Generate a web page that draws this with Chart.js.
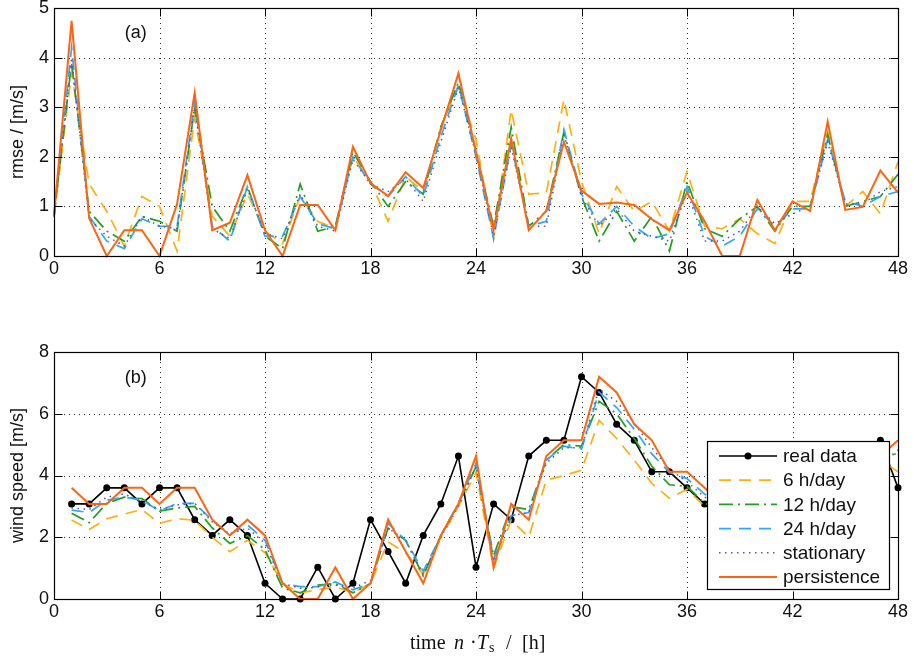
<!DOCTYPE html>
<html><head><meta charset="utf-8">
<script src="https://cdn.jsdelivr.net/npm/chart.js@4.4.1/dist/chart.umd.min.js"></script>
<style>
html,body{margin:0;padding:0;background:#fff;}
#wrap{position:relative;width:914px;height:659px;overflow:hidden;}
#c1{position:absolute;left:0;top:0;}
#c2{position:absolute;left:0;top:330px;}
</style></head><body>
<div id="wrap"><canvas id="c1" width="914" height="300"></canvas><canvas id="c2" width="914" height="329"></canvas></div>
<script>
// ---------- data ----------
const hoursA = [0,1,2,3,4,5,6,7,8,9,10,11,12,13,14,15,16,17,18,19,20,21,22,23,24,25,26,27,28,29,30,31,32,33,34,35,36,37,38,39,40,41,42,43,44,45,46,47,48];
const hoursB = [1,2,3,4,5,6,7,8,9,10,11,12,13,14,15,16,17,18,19,20,21,22,23,24,25,26,27,28,29,30,31,32,33,34,35,36,37,38,39,40,41,42,43,44,45,46,47,48];
const xTicks = [0,6,12,18,24,30,36,42,48];
const seriesNames = ["real data","6 h/day","12 h/day","24 h/day","stationary","persistence"];

// (a) rmse [m/s]
const rmse6h  = [0.8,3.7,1.45,0.9,0.2,1.2,1.0,0.1,2.8,0.8,0.4,1.25,0.5,0.25,1.2,0.7,0.55,2.0,1.5,0.7,1.6,1.3,2.6,3.4,2.35,0.35,2.95,1.25,1.27,3.16,1.5,0.45,1.4,0.9,1.1,0.5,1.7,0.6,0.55,0.75,0.45,0.25,1.1,1.1,2.5,1.0,1.3,0.85,1.9];
const rmse12h = [0.8,3.9,0.9,0.5,0.3,0.8,0.7,0.5,3.0,1.0,0.5,1.4,0.4,0.15,1.45,0.5,0.6,2.1,1.5,1.0,1.5,1.25,2.6,3.5,2.1,0.6,2.6,0.6,0.9,2.5,1.2,0.3,0.9,0.3,0.8,0.1,1.5,0.55,0.4,0.75,1.0,0.5,1.0,1.0,2.45,1.0,1.1,1.2,1.65];
const rmse24h = [0.8,4.2,0.8,0.3,0.15,0.75,0.6,0.6,3.1,0.6,0.3,1.4,0.4,0.4,1.2,0.65,0.55,2.0,1.45,1.2,1.6,1.2,2.4,3.45,2.0,0.35,2.25,0.6,0.7,2.55,1.25,0.65,1.0,0.6,0.35,0.45,1.4,0.4,0.2,0.4,0.95,0.6,0.95,0.95,2.35,1.1,1.0,1.2,1.3];
const rmseStat = [0.8,4.0,0.75,0.4,0.2,0.8,0.6,0.55,3.0,0.55,0.35,1.35,0.45,0.35,1.25,0.6,0.5,1.95,1.45,1.3,1.55,1.1,2.3,3.4,2.05,0.4,2.2,0.6,0.6,2.45,1.2,0.6,0.95,0.5,0.4,0.3,1.3,0.3,0.3,0.5,1.0,0.65,0.85,1.0,2.3,1.05,1.05,1.3,1.4];
const rmsePers = [0.81,4.74,0.76,0,0.52,0.52,0,1.05,3.29,0.52,0.67,1.63,0.52,0,1.03,1.03,0.52,2.2,1.47,1.21,1.69,1.37,2.54,3.68,2.1,0.52,2.37,0.52,0.91,2.3,1.32,1.05,1.08,1.03,0.74,0.52,1.28,0.7,0,0,1.13,0.52,1.1,0.91,2.71,0.93,0.99,1.72,1.28];

// (b) wind speed [m/s]
const windReal = [3.08,3.08,3.6,3.6,3.08,3.6,3.6,2.57,2.06,2.57,2.06,0.51,0,0,1.03,0,0.51,2.57,1.54,0.51,2.06,3.08,4.63,1.03,3.08,2.57,4.63,5.14,5.14,7.2,6.69,5.66,5.14,4.12,4.12,3.6,3.08,2.57,2.57,3.08,3.08,3.6,4.12,4.63,4.12,4.63,5.14,3.6];
const wind6h   = [2.56,2.25,2.6,2.75,2.9,2.45,2.6,2.55,2.0,1.53,1.9,1.5,0.5,0.2,0.3,0.4,0.2,0.5,1.85,1.5,0.8,2.0,3.0,4.1,1.0,2.56,2.0,3.85,4.0,4.17,5.79,5.2,4.5,3.74,3.26,3.55,3.0,2.7,2.6,2.7,3.0,3.3,3.7,4.0,4.0,4.3,4.5,4.12];
const wind12h  = [2.78,2.47,3.1,3.3,3.25,2.85,2.95,3.0,2.3,1.8,2.05,1.6,0.35,0.2,0.45,0.5,0.2,0.5,2.3,1.9,0.75,2.05,3.1,4.28,1.4,2.99,2.9,4.5,5.0,4.95,6.4,6.0,5.2,4.3,3.7,3.65,3.1,2.9,2.8,2.9,3.1,3.4,3.8,4.1,4.2,4.4,4.7,4.68];
const wind24h  = [2.88,2.8,3.2,3.3,3.2,2.85,3.1,3.1,2.55,2.1,2.4,1.9,0.5,0.4,0.4,0.55,0.3,0.5,2.45,1.9,0.9,2.05,3.1,4.4,1.3,2.7,2.8,4.5,4.95,4.85,6.7,6.2,5.5,4.7,4.1,3.9,3.4,3.0,2.9,3.0,3.2,3.5,3.9,4.2,4.3,4.5,4.8,4.82];
const windStat = [2.95,2.9,3.3,3.4,3.15,2.9,3.05,3.1,2.5,2.1,2.3,1.8,0.5,0.35,0.4,0.45,0.35,0.6,2.3,1.9,0.8,2.0,3.0,4.3,1.2,2.7,2.8,4.4,4.9,4.9,6.8,6.4,5.7,4.9,4.2,3.8,3.3,3.0,2.9,3.0,3.2,3.5,3.8,4.1,4.2,4.4,4.7,4.7];
const windPers = [3.6,3.08,3.08,3.6,3.6,3.08,3.6,3.6,2.57,2.06,2.57,2.06,0.51,0,0,1.03,0,0.51,2.57,1.54,0.51,2.06,3.08,4.63,1.03,3.08,2.57,4.63,5.14,5.14,7.2,6.69,5.66,5.14,4.12,4.12,3.6,3.08,2.57,2.57,3.08,3.08,3.6,4.12,4.63,4.12,4.63,5.14];

// ---------- styles ----------
const SANS = '"Liberation Sans", Arial, Helvetica, sans-serif';
const SERIF = '"Liberation Serif", "Times New Roman", serif';
const styles = {
  "real data":  {color:'#000000', dash:[], width:1.6, point:3.5},
  "6 h/day":    {color:'#FFB010', dash:[12,8], width:1.7, point:0},
  "12 h/day":   {color:'#1FA01F', dash:[14,5,2,5], width:1.7, point:0},
  "24 h/day":   {color:'#2FA8FA', dash:[12,8], width:1.7, point:0},
  "stationary": {color:'#5050CC', dash:[1.5,4.5], width:1.5, point:0},
  "persistence":{color:'#FF6410', dash:[], width:2, point:0}
};
const drawOrder = {"real data":5,"6 h/day":4,"12 h/day":3,"24 h/day":2,"stationary":1,"persistence":0};

function ds(name, xs, ys){
  const s = styles[name];
  return {
    label:name, data: xs.map((x,i)=>({x:x,y:ys[i]})),
    borderColor:s.color, backgroundColor:s.color, borderDash:s.dash, borderWidth:s.width,
    pointRadius:s.point, pointHoverRadius:s.point, pointBackgroundColor:s.color, pointBorderWidth:0,
    tension:0, fill:false, order:drawOrder[name], clip:4
  };
}

const framePlugin = {
  id:'frame',
  beforeDatasetsDraw(chart){
    const {ctx, chartArea:a, scales:{x,y}} = chart;
    ctx.save();
    ctx.strokeStyle = '#333'; ctx.lineWidth = 1; ctx.setLineDash([1,4]);
    x.ticks.forEach(t=>{ const px = Math.round(x.getPixelForValue(t.value))+0.5;
      if (t.value<=0||t.value>=48) return;
      ctx.beginPath(); ctx.moveTo(px,a.top); ctx.lineTo(px,a.bottom); ctx.stroke(); });
    y.ticks.forEach(t=>{ const py = Math.round(y.getPixelForValue(t.value))+0.5;
      if (t.value<=y.min||t.value>=y.max) return;
      ctx.beginPath(); ctx.moveTo(a.left,py); ctx.lineTo(a.right,py); ctx.stroke(); });
    ctx.restore();
  },
  afterDatasetsDraw(chart, args, opts){
    const {ctx, chartArea:a, scales:{x,y}} = chart;
    ctx.save();
    ctx.setLineDash([]); ctx.strokeStyle='#000'; ctx.lineWidth=1.2;
    const L=Math.round(a.left)+0.5, R=Math.round(a.right)+0.5, T=Math.round(a.top)+0.5, B=Math.round(a.bottom)+0.5;
    ctx.strokeRect(L,T,R-L,B-T);
    ctx.lineWidth=1;
    const tl=8;
    x.ticks.forEach(t=>{ const px=Math.round(x.getPixelForValue(t.value))+0.5;
      ctx.beginPath(); ctx.moveTo(px,B); ctx.lineTo(px,B-tl); ctx.moveTo(px,T); ctx.lineTo(px,T+tl); ctx.stroke(); });
    y.ticks.forEach(t=>{ const py=Math.round(y.getPixelForValue(t.value))+0.5;
      ctx.beginPath(); ctx.moveTo(L,py); ctx.lineTo(L+tl,py); ctx.moveTo(R,py); ctx.lineTo(R-tl,py); ctx.stroke(); });
    // panel label
    ctx.fillStyle='#111'; ctx.font='18px '+SANS; ctx.textAlign='center'; ctx.textBaseline='middle';
    ctx.fillText(opts.panel, x.getPixelForValue(opts.px), y.getPixelForValue(opts.py));
    if (opts.legend) {
      const bx=707, by=111, bw=182, bh=148;
      ctx.fillStyle='#fff'; ctx.fillRect(bx,by,bw,bh);
      ctx.strokeStyle='#000'; ctx.lineWidth=1.2; ctx.strokeRect(bx+0.5,by+0.5,bw,bh);
      chart.data.datasets.forEach((d,i)=>{
        const cy = by+15+i*24.2;
        ctx.save();
        ctx.strokeStyle=d.borderColor; ctx.lineWidth=d.borderWidth; ctx.setLineDash(d.borderDash);
        ctx.beginPath(); ctx.moveTo(719,cy); ctx.lineTo(777,cy); ctx.stroke();
        if (d.pointRadius>0){ ctx.fillStyle=d.borderColor; ctx.beginPath(); ctx.arc(748,cy,d.pointRadius,0,Math.PI*2); ctx.fill(); }
        ctx.restore();
        ctx.fillStyle='#111'; ctx.font='19px '+SANS; ctx.textAlign='left'; ctx.textBaseline='middle';
        ctx.fillText(d.label, 783, cy+1);
      });
    }
    if (opts.xtitle) {
      const cx=(a.left+a.right)/2, base=319;
      ctx.fillStyle='#111'; ctx.textAlign='left'; ctx.textBaseline='alphabetic';
      ctx.font='20px '+SERIF; ctx.fillText('time', cx-66, base);
      ctx.font='italic 20px '+SERIF; ctx.fillText('n', cx-22, base);
      ctx.font='20px '+SERIF; ctx.fillText('\u00B7', cx-6, base);
      ctx.font='italic 20px '+SERIF; ctx.fillText('T', cx+1, base);
      ctx.font='14px '+SERIF; ctx.fillText('s', cx+13, base+3);
      ctx.font='20px '+SERIF; ctx.fillText('/', cx+30, base);
      ctx.fillText('[h]', cx+46, base);
    }
    ctx.restore();
  }
};

function makeChart(id, datasets, yMax, yStep, yTitle, padTop, xHeight, frameOpts){
  return new Chart(document.getElementById(id), {
    type:'line',
    data:{datasets},
    plugins:[framePlugin],
    options:{
      responsive:false, animation:false, devicePixelRatio:1,
      layout:{padding:{left:0,right:16,top:padTop,bottom:0}},
      plugins:{legend:{display:false}, tooltip:{enabled:false}, frame:frameOpts},
      scales:{
        x:{type:'linear', min:0, max:48,
           afterBuildTicks:(s)=>{ s.ticks = xTicks.map(v=>({value:v})); },
           ticks:{font:{family:SANS,size:18}, color:'#111', padding:2, maxRotation:0, autoSkip:false},
           grid:{display:false, drawTicks:false}, border:{display:false},
           afterFit:(s)=>{ s.height=xHeight; s.paddingLeft=0; s.paddingRight=0; }},
        y:{type:'linear', min:0, max:yMax,
           ticks:{stepSize:yStep, font:{family:SANS,size:18}, color:'#111', padding:5},
           grid:{display:false, drawTicks:false}, border:{display:false},
           title:{display:true, text:yTitle, font:{family:SANS,size:18}, color:'#111', padding:{top:7,bottom:0}},
           afterFit:(s)=>{ s.width=54; s.paddingTop=0; s.paddingBottom=0; }}
      }
    }
  });
}

makeChart('c1', [
  ds("6 h/day", hoursA, rmse6h),
  ds("12 h/day", hoursA, rmse12h),
  ds("24 h/day", hoursA, rmse24h),
  ds("stationary", hoursA, rmseStat),
  ds("persistence", hoursA, rmsePers)
], 5, 1, 'rmse / [m/s]', 8, 44, {panel:'(a)', px:4.65, py:4.5});

makeChart('c2', [
  ds("real data", hoursB, windReal),
  ds("6 h/day", hoursB, wind6h),
  ds("12 h/day", hoursB, wind12h),
  ds("24 h/day", hoursB, wind24h),
  ds("stationary", hoursB, windStat),
  ds("persistence", hoursB, windPers)
], 8, 2, 'wind speed [m/s]', 22, 60, {panel:'(b)', px:4.65, py:7.15, legend:true, xtitle:true});
</script>
</body></html>
